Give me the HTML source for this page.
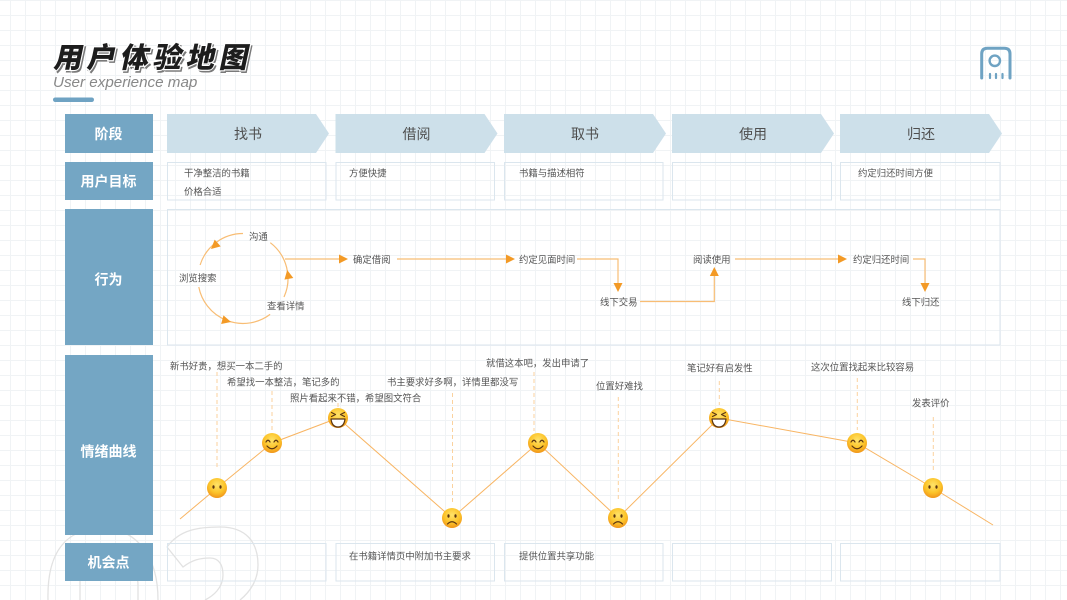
<!DOCTYPE html>
<html>
<head>
<meta charset="utf-8">
<style>
  html,body{margin:0;padding:0;background:#fff;}
  body{width:1067px;height:600px;overflow:hidden;}
  svg{display:block;}
  .t{font-family:"Liberation Sans","Noto Sans CJK SC",sans-serif;font-size:9.4px;fill:#555;}
  .lb{font-family:"Liberation Sans","Noto Sans CJK SC",sans-serif;font-size:14px;font-weight:bold;fill:#fff;}
  .st{font-family:"Liberation Sans","Noto Sans CJK SC",sans-serif;font-size:14px;fill:#4f4f4f;}
</style>
</head>
<body>
<svg width="1067" height="600" viewBox="0 0 1067 600" xmlns="http://www.w3.org/2000/svg">
  <defs>
    <pattern id="grid" x="10" y="0" width="15" height="15" patternUnits="userSpaceOnUse">
      <path d="M0.5,0 V15 M0,0.5 H15" stroke="#f0f3f5" stroke-width="1" fill="none"/>
    </pattern>
    <radialGradient id="fg" cx="50%" cy="35%" r="65%">
      <stop offset="0%" stop-color="#ffe36a"/>
      <stop offset="60%" stop-color="#fcc42a"/>
      <stop offset="100%" stop-color="#f0951a"/>
    </radialGradient>
  </defs>

  <!-- background grid -->
  <rect x="0" y="0" width="1067" height="600" fill="#fff"/>
  <rect x="0" y="0" width="1067" height="600" fill="url(#grid)"/>

  <!-- big outline digits bottom-left -->
  <g fill="none" stroke="#e2e2e2" stroke-width="1.3">
    <path d="M48,600 C47,560 60,530 100,528 C140,528 158,560 158,600"/>
    <path d="M80,600 L80,582 C80,566 92,560 108,560 C126,560 138,570 138,585 L138,600"/>
    <path d="M167,547 C180,529 200,527 220,527 C246,527 258,542 258,565 C258,580 250,592 240,600"/>
    <path d="M167,547 L183,567 C192,560 200,558 210,558 C219,558 223,565 223,575 C223,588 213,596 205,600"/>
  </g>

  <!-- title -->
  <g transform="translate(53,67.5) skewX(-12)">
    <text x="2" y="2" font-family="'Noto Sans CJK SC','WenQuanYi Zen Hei',sans-serif" font-size="28.5" font-weight="900" letter-spacing="4.6" fill="#7a7a7a" stroke="#7a7a7a" stroke-width="1.5">用户体验地图</text>
    <text x="0" y="0" font-family="'Noto Sans CJK SC','WenQuanYi Zen Hei',sans-serif" font-size="28.5" font-weight="900" letter-spacing="4.6" fill="#1d1d1d" stroke="#ffffff" stroke-width="2.4" paint-order="stroke">用户体验地图</text>
  </g>
  <text x="53" y="87" font-family="'Liberation Sans',sans-serif" font-style="italic" font-size="15.2" fill="#888888">User experience map</text>
  <rect x="53" y="97.5" width="41" height="4.5" rx="2.25" fill="#6fa3c3"/>

  <!-- top-right icon -->
  <g fill="none" stroke="#6fa3c3" stroke-linecap="round">
    <path d="M981.7,78 V54 Q981.7,48.3 987.4,48.3 H1004.3 Q1010,48.3 1010,54 V78" stroke-width="3"/>
    <circle cx="994.8" cy="60.8" r="5.2" stroke-width="2.4"/>
    <path d="M990,74 V78 M996,74 V78 M1002.5,74 V78" stroke-width="2.2"/>
  </g>

  <!-- left label column -->
  <g fill="#74a6c4">
    <rect x="65" y="114" width="88" height="39"/>
    <rect x="65" y="162" width="88" height="38"/>
    <rect x="65" y="209" width="88" height="136"/>
    <rect x="65" y="355" width="88" height="180"/>
    <rect x="65" y="543" width="88" height="38"/>
  </g>
  <g class="lb" text-anchor="middle">
    <text x="108.5" y="138.8">阶段</text>
    <text x="108.5" y="186.3">用户目标</text>
    <text x="108.5" y="284.3">行为</text>
    <text x="108.5" y="456.3">情绪曲线</text>
    <text x="108.5" y="567.3">机会点</text>
  </g>

  <!-- stage arrows -->
  <g fill="#cde0ea">
    <polygon points="167,114 316,114 329,133.5 316,153 167,153"/>
    <polygon points="335.5,114 484.5,114 497.5,133.5 484.5,153 335.5,153"/>
    <polygon points="504,114 653,114 666,133.5 653,153 504,153"/>
    <polygon points="672,114 821,114 834,133.5 821,153 672,153"/>
    <polygon points="840,114 989,114 1002,133.5 989,153 840,153"/>
  </g>
  <g class="st" text-anchor="middle">
    <text x="248" y="138.8">找书</text>
    <text x="416.5" y="138.8">借阅</text>
    <text x="585" y="138.8">取书</text>
    <text x="753" y="138.8">使用</text>
    <text x="921" y="138.8">归还</text>
  </g>

  <!-- goal boxes -->
  <g fill="none" stroke="#dbe6ee" stroke-width="1">
    <rect x="167.5" y="162.5" width="158.5" height="37.5"/>
    <rect x="336" y="162.5" width="158.5" height="37.5"/>
    <rect x="504.5" y="162.5" width="158.5" height="37.5"/>
    <rect x="672.5" y="162.5" width="159" height="37.5"/>
    <rect x="840.5" y="162.5" width="159.5" height="37.5"/>
    <!-- behavior box -->
    <rect x="167.5" y="209.5" width="832.5" height="135.5"/>
    <!-- opportunity boxes -->
    <rect x="167.5" y="543.5" width="158.5" height="37.5"/>
    <rect x="336" y="543.5" width="158.5" height="37.5"/>
    <rect x="504.5" y="543.5" width="158.5" height="37.5"/>
    <rect x="672.5" y="543.5" width="159" height="37.5"/>
    <rect x="840.5" y="543.5" width="159.5" height="37.5"/>
  </g>
  <g class="t">
    <text x="184" y="176.5">干净整洁的书籍</text>
    <text x="184" y="195">价格合适</text>
    <text x="349" y="176.5">方便快捷</text>
    <text x="519" y="176.5">书籍与描述相符</text>
    <text x="858" y="176.5">约定归还时间方便</text>
    <text x="349" y="559.5">在书籍详情页中附加书主要求</text>
    <text x="519" y="559.5">提供位置共享功能</text>
  </g>

  <!-- behavior flow -->
  <g fill="none" stroke="#f8bd74" stroke-width="1.2">
    <path d="M243,233.5 A45,45 0 0 0 200.1,265"/>
    <path d="M198.8,287 A45,45 0 0 0 270.1,314.4"/>
    <path d="M284,297 A45,45 0 0 0 270.3,242.7"/>
    <path d="M285,259 H340"/>
    <path d="M397,259 H507"/>
    <path d="M577,259 H618 V284"/>
    <path d="M640,301.5 H714.3 V275"/>
    <path d="M735,259 H839"/>
    <path d="M913,259 H925 V284"/>
  </g>
  <g fill="#f39a26">
    <polygon points="0,0 -9,-4.5 -9,4.5" transform="translate(211,249) rotate(138)"/>
    <polygon points="0,0 -9,-4.5 -9,4.5" transform="translate(231,322) rotate(15)"/>
    <polygon points="0,0 -9,-4.5 -9,4.5" transform="translate(287.2,270) rotate(-100.7)"/>
    <polygon points="348,259 339,254.5 339,263.5"/>
    <polygon points="515,259 506,254.5 506,263.5"/>
    <polygon points="618,292 613.5,283 622.5,283"/>
    <polygon points="714.3,267 709.8,276 718.8,276"/>
    <polygon points="847,259 838,254.5 838,263.5"/>
    <polygon points="925,292 920.5,283 929.5,283"/>
  </g>
  <g class="t">
    <text x="249" y="240.2">沟通</text>
    <text x="179" y="281.5">浏览搜索</text>
    <text x="267" y="309.5">查看详情</text>
    <text x="353" y="263.2">确定借阅</text>
    <text x="519" y="263.2">约定见面时间</text>
    <text x="600" y="305.3">线下交易</text>
    <text x="693" y="263.2">阅读使用</text>
    <text x="853" y="263.2">约定归还时间</text>
    <text x="902" y="305.3">线下归还</text>
  </g>

  <!-- emotion curve -->
  <g fill="none" stroke="#fbd29e" stroke-width="1" stroke-dasharray="4 3">
    <path d="M217,372 V470"/>
    <path d="M272,391 V430"/>
    <path d="M338,403 V408"/>
    <path d="M452.5,393 V502"/>
    <path d="M534,372 V431"/>
    <path d="M618.3,397 V502"/>
    <path d="M719.3,381 V405"/>
    <path d="M857.3,378 V430"/>
    <path d="M933.3,417 V470"/>
  </g>
  <polyline fill="none" stroke="#f8b563" stroke-width="1" points="180,519 217,488 272,443 338,418 452,518 538,443 618,518 719,418 857,443 933,488 993,525"/>

  <g class="t">
    <text x="170" y="369.5">新书好贵，想买一本二手的</text>
    <text x="227" y="385.5">希望找一本整洁，笔记多的</text>
    <text x="290" y="401.5">照片看起来不错，希望图文符合</text>
    <text x="387" y="385.5">书主要求好多啊，详情里都没写</text>
    <text x="486" y="366.5">就借这本吧，发出申请了</text>
    <text x="596" y="389.5">位置好难找</text>
    <text x="687" y="371.5">笔记好有启发性</text>
    <text x="811" y="370.5">这次位置找起来比较容易</text>
    <text x="912" y="406.5">发表评价</text>
  </g>

  <!-- faces -->
  <g stroke="#5b3613" stroke-width="1.2" stroke-linecap="round" stroke-linejoin="round">
    <g transform="translate(217,488)">
      <circle r="10" fill="url(#fg)" stroke="none"/>
      <ellipse cx="-3.5" cy="-1" rx="1.1" ry="1.7" fill="#5b3613" stroke="none"/>
      <ellipse cx="3.5" cy="-1" rx="1.1" ry="1.7" fill="#5b3613" stroke="none"/>
    </g>
    <g transform="translate(272,443)" fill="none">
      <circle r="10" fill="url(#fg)" stroke="none"/>
      <path d="M-6,-1 Q-4,-4.5 -2,-1 M2,-1 Q4,-4.5 6,-1"/>
      <path d="M-5,3 Q0,8.5 5,3"/>
    </g>
    <g transform="translate(338,418)" fill="none">
      <circle r="10" fill="url(#fg)" stroke="none"/>
      <path d="M-6.5,-5.5 L-2.5,-3.5 L-6.5,-1.5 M6.5,-5.5 L2.5,-3.5 L6.5,-1.5"/>
      <path d="M-7,1 L7,1 Q6,9 0,9 Q-6,9 -7,1 Z" fill="#fff"/>
    </g>
    <g transform="translate(452,518)" fill="none">
      <circle r="10" fill="url(#fg)" stroke="none"/>
      <ellipse cx="-3.5" cy="-2" rx="1.1" ry="1.7" fill="#5b3613" stroke="none"/>
      <ellipse cx="3.5" cy="-2" rx="1.1" ry="1.7" fill="#5b3613" stroke="none"/>
      <path d="M-4.5,6 Q0,1.5 4.5,6"/>
    </g>
    <g transform="translate(538,443)" fill="none">
      <circle r="10" fill="url(#fg)" stroke="none"/>
      <path d="M-6,-1 Q-4,-4.5 -2,-1 M2,-1 Q4,-4.5 6,-1"/>
      <path d="M-5,3 Q0,8.5 5,3"/>
    </g>
    <g transform="translate(618,518)" fill="none">
      <circle r="10" fill="url(#fg)" stroke="none"/>
      <ellipse cx="-3.5" cy="-2" rx="1.1" ry="1.7" fill="#5b3613" stroke="none"/>
      <ellipse cx="3.5" cy="-2" rx="1.1" ry="1.7" fill="#5b3613" stroke="none"/>
      <path d="M-4.5,6 Q0,1.5 4.5,6"/>
    </g>
    <g transform="translate(719,418)" fill="none">
      <circle r="10" fill="url(#fg)" stroke="none"/>
      <path d="M-6.5,-5.5 L-2.5,-3.5 L-6.5,-1.5 M6.5,-5.5 L2.5,-3.5 L6.5,-1.5"/>
      <path d="M-7,1 L7,1 Q6,9 0,9 Q-6,9 -7,1 Z" fill="#fff"/>
    </g>
    <g transform="translate(857,443)" fill="none">
      <circle r="10" fill="url(#fg)" stroke="none"/>
      <path d="M-6,-1 Q-4,-4.5 -2,-1 M2,-1 Q4,-4.5 6,-1"/>
      <path d="M-5,3 Q0,8.5 5,3"/>
    </g>
    <g transform="translate(933,488)">
      <circle r="10" fill="url(#fg)" stroke="none"/>
      <ellipse cx="-3.5" cy="-1" rx="1.1" ry="1.7" fill="#5b3613" stroke="none"/>
      <ellipse cx="3.5" cy="-1" rx="1.1" ry="1.7" fill="#5b3613" stroke="none"/>
    </g>
  </g>
</svg>
</body>
</html>
